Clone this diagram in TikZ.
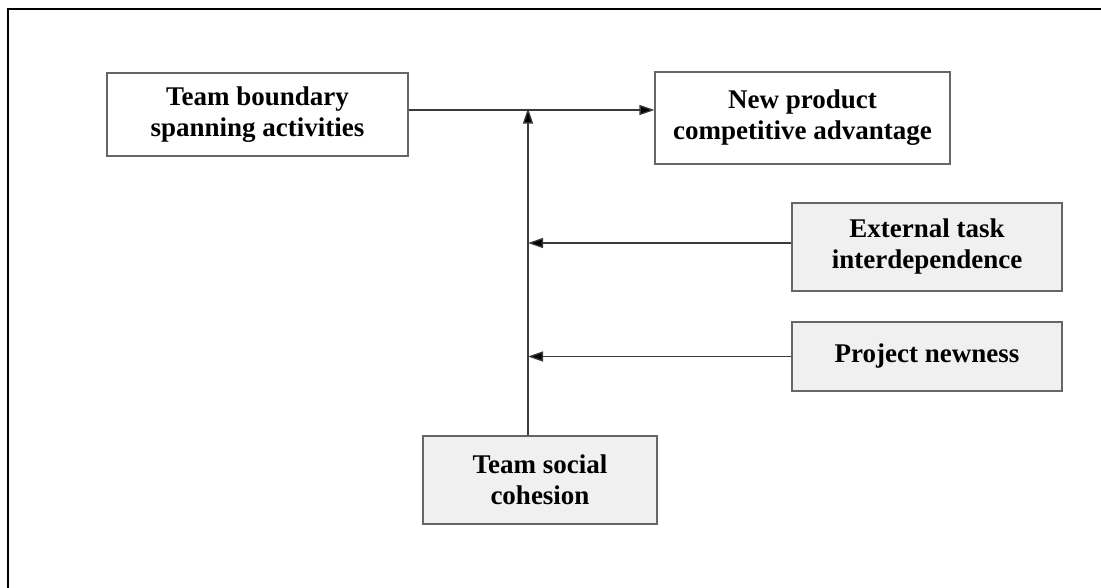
\documentclass[tikz,border=0pt]{standalone}
\usepackage{fontspec}
\setmainfont{Liberation Serif}
\usetikzlibrary{arrows.meta}
\definecolor{boxline}{HTML}{666666}
\definecolor{boxfill}{HTML}{F0F0F0}
\definecolor{conline}{HTML}{3A3A3A}
\tikzset{
  plainbox/.style={draw=boxline, line width=1.1pt, fill=white, inner sep=0pt, align=center,
    font=\fontsize{27}{31}\selectfont\bfseries},
  greybox/.style={plainbox, fill=boxfill},
  conn/.style={draw=conline, line width=1.3pt, -{Triangle[length=15pt,width=10pt,fill=black]}},
  frameline/.style={draw=black, line width=1.6pt}
}
\begin{document}
\begin{tikzpicture}[x=1pt,y=-1pt]
\useasboundingbox (0,0) rectangle (1101,587);
\coordinate (ftl) at (8,9);
\coordinate (ftr) at (1102,9);
\coordinate (fbl) at (8,588);
\draw[frameline] (ftr) -- (ftl) -- (fbl);

\node[plainbox, minimum width=301pt, minimum height=83pt] (b1) at (257.5,114.5) {Team boundary\\spanning activities};
\node[plainbox, minimum width=295pt, minimum height=92pt] (b2) at (802.5,118) {New product\\competitive advantage};
\node[greybox, minimum width=270pt, minimum height=88pt] (ext) at (927,247) {External task\\interdependence};
\node[greybox, minimum width=270pt, minimum height=69pt] (proj) at (927,356.5) {Project newness};
\node[greybox, minimum width=234pt, minimum height=88pt] (soc) at (540,480) {Team social\\cohesion};

\coordinate (j) at (528,110);
\draw[conn] (b1.east |- j) -- (b2.west |- j);
\draw[conn] (soc.north -| j) -- ([yshift=1.5pt]j);
\draw[conn] ([yshift=4pt]ext.west) -- ([yshift=4pt]ext.west -| j);
\draw[conn] (proj.west) -- (proj.west -| j);
\end{tikzpicture}
\end{document}
